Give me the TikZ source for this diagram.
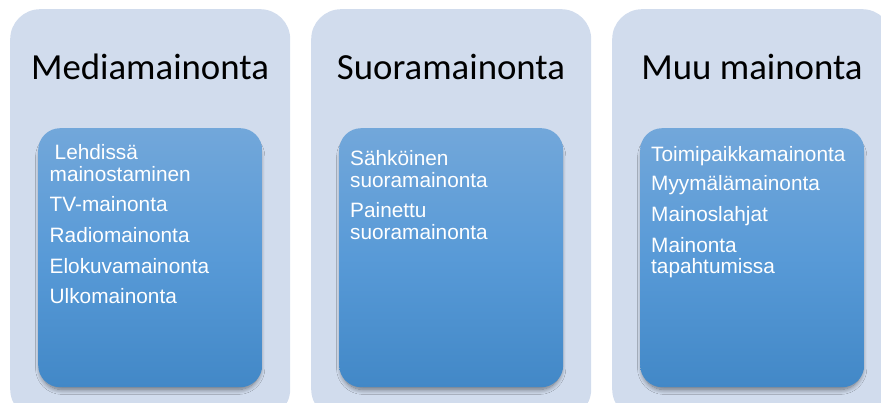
\documentclass[tikz,border=0pt]{standalone}
\usepackage{fontspec}
\setmainfont{Liberation Sans}
\newfontfamily\titlefont{Carlito}
\usetikzlibrary{shadows.blur}

\definecolor{panelbg}{RGB}{209,220,237}
\definecolor{boxtop}{RGB}{114,167,218}
\definecolor{boxmid}{RGB}{88,154,215}
\definecolor{boxbot}{RGB}{66,136,199}

\begin{document}
\begin{tikzpicture}[x=1pt,y=1pt,
  panel/.style={fill=panelbg, rounded corners=30pt, minimum width=280pt,
    minimum height=410pt, anchor=north west, inner sep=0pt},
  itembox/.style={rounded corners=22pt, top color=boxtop, bottom color=boxbot,
    middle color=boxmid, minimum width=224pt, minimum height=259pt,
    anchor=north west, inner sep=0pt,
    blur shadow={shadow xshift=0pt, shadow yshift=-5pt, shadow scale=0.98,
      shadow opacity=50, shadow blur radius=5pt, shadow blur steps=12}},
  title/.style={font=\titlefont\fontsize{36.8}{42}\selectfont, anchor=base, inner sep=0pt},
  item/.style={font=\fontsize{20.8}{22}\selectfont, text=white, anchor=base west, inner sep=0pt}]

\clip (0,0) rectangle (881,403);

% three background panels
\node[panel] (p1) at (10,394) {};
\node[panel] (p2) at (311,394) {};
\node[panel] (p3) at (612,394) {};

% headings
\node[title] (t1) at (150,323) {Mediamainonta};
\node[title] (t2) at (451,323) {Suoramainonta};
\node[title] (t3) at (752,323) {Muu mainonta};

% shaded content boxes
\node[itembox] (b1) at (38,275) {};
\node[itembox] (b2) at (339,275) {};
\node[itembox] (b3) at (640,275) {};

% first column
\node[item] (m1a) at (54.5,243.5) {Lehdissä};
\node[item] (m1b) at (49.5,221) {mainostaminen};
\node[item] (m2) at (49.5,191.5) {TV-mainonta};
\node[item] (m3) at (49.5,160.5) {Radiomainonta};
\node[item] (m4) at (49.5,129.7) {Elokuvamainonta};
\node[item] (m5) at (49.5,99) {Ulkomainonta};

% second column
\node[item] (s1a) at (350,237) {Sähköinen};
\node[item] (s1b) at (350,215.5) {suoramainonta};
\node[item] (s2a) at (350,185) {Painettu};
\node[item] (s2b) at (350,163) {suoramainonta};

% third column
\node[item] (u1) at (651,241.3) {Toimipaikkamainonta};
\node[item] (u2) at (651,212.3) {Myymälämainonta};
\node[item] (u3) at (651,181.3) {Mainoslahjat};
\node[item] (u4a) at (651,150.7) {Mainonta};
\node[item] (u4b) at (651,129) {tapahtumissa};
\end{tikzpicture}
\end{document}
